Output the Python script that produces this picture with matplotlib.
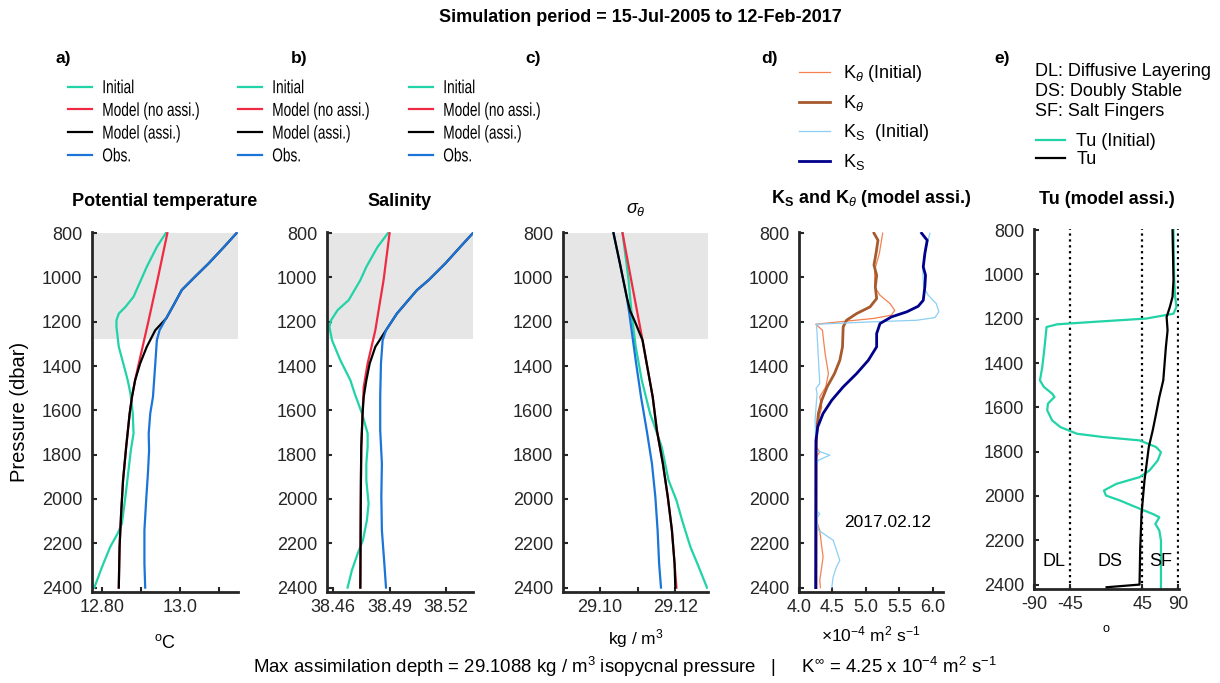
import matplotlib.pyplot as plt
from matplotlib.patheffects import AbstractPathEffect
from matplotlib.transforms import Affine2D

plt.rcParams['font.family'] = ['Liberation Sans', 'DejaVu Sans']
plt.rcParams['mathtext.fontset'] = 'custom'
plt.rcParams['mathtext.rm'] = 'Liberation Sans'
plt.rcParams['mathtext.it'] = 'Liberation Sans:italic'
plt.rcParams['mathtext.bf'] = 'Liberation Sans:bold'

DARK = '#262626'

C_INIT = '#21d3a7'
C_NOASSI = '#ef2b43'
C_ASSI = 'black'
C_OBS = '#1b74d8'


class Narrow(AbstractPathEffect):
    # squeeze left-aligned text horizontally (the original uses a condensed face)
    def __init__(self, sx=0.75):
        super().__init__()
        self.sx = sx

    def draw_path(self, renderer, gc, tpath, affine, rgbFace=None):
        renderer.draw_path(gc, tpath, Affine2D().scale(self.sx, 1) + affine, rgbFace)


# ---- a) potential temperature
p_t_obs = [800, 862, 937, 997, 1057, 1125, 1193, 1238, 1283, 1388, 1539, 1614, 1704, 1780, 1885, 1990, 2141, 2291, 2400]
t_obs = [13.146, 13.114, 13.074, 13.039, 13.005, 12.984, 12.962, 12.948, 12.941, 12.937, 12.931, 12.924, 12.920,
         12.921, 12.918, 12.914, 12.909, 12.909, 12.911]
p_t_assi = [800, 862, 937, 997, 1057, 1125, 1185, 1238, 1313, 1388, 1464, 1539, 1614, 1765, 1915, 2066, 2216, 2400]
t_assi = [13.146, 13.114, 13.074, 13.039, 13.005, 12.984, 12.965, 12.937, 12.915, 12.898, 12.885, 12.877, 12.871,
          12.862, 12.854, 12.849, 12.845, 12.843]
p_t_noassi = [800, 1000, 1200, 1400, 1464, 1539, 1614, 1765, 1915, 2066, 2216, 2400]
t_noassi = [12.968, 12.944, 12.919, 12.893, 12.885, 12.877, 12.871, 12.862, 12.854, 12.849, 12.845, 12.843]
p_t_init = [800, 862, 952, 1087, 1133, 1163, 1193, 1223, 1313, 1404, 1464, 1524, 1614, 1704, 1780, 1871, 1990,
            2111, 2156, 2216, 2306, 2400]
t_init = [12.964, 12.941, 12.915, 12.881, 12.860, 12.843, 12.837, 12.837, 12.843, 12.857, 12.866, 12.873, 12.879,
          12.881, 12.874, 12.868, 12.860, 12.851, 12.840, 12.821, 12.800, 12.780]

# ---- b) salinity
p_s_obs = [800, 862, 937, 1012, 1057, 1163, 1238, 1283, 1388, 1539, 1689, 1840, 1990, 2141, 2291, 2400]
s_obs = [38.5344, 38.5277, 38.5197, 38.5108, 38.5046, 38.4939, 38.4881, 38.4863, 38.4854, 38.4850, 38.4850,
         38.4859, 38.4856, 38.4859, 38.4872, 38.4881]
p_s_assi = [800, 862, 937, 1012, 1057, 1163, 1238, 1313, 1388, 1464, 1539, 1614, 1765, 1915, 2066, 2400]
s_assi = [38.5344, 38.5277, 38.5197, 38.5108, 38.5046, 38.4939, 38.4881, 38.4824, 38.4794, 38.4776, 38.4762,
          38.4756, 38.4749, 38.4747, 38.4746, 38.4744]
p_s_noassi = [800, 1012, 1238, 1388, 1494, 1765, 2066, 2400]
s_noassi = [38.4900, 38.4868, 38.4824, 38.4783, 38.4762, 38.4749, 38.4746, 38.4744]
p_s_init = [800, 862, 952, 1012, 1102, 1147, 1193, 1223, 1283, 1373, 1464, 1524, 1614, 1704, 1765, 1840, 1915,
            2021, 2096, 2186, 2246, 2322, 2400]
s_init = [38.4891, 38.4836, 38.4776, 38.4744, 38.4682, 38.4623, 38.4588, 38.4579, 38.4593, 38.4637, 38.4691,
          38.4714, 38.4753, 38.4783, 38.4783, 38.4776, 38.4776, 38.4788, 38.4779, 38.4758, 38.4730, 38.4699, 38.4676]

# ---- c) sigma theta
p_d_obs = [800, 937, 1087, 1163, 1238, 1388, 1539, 1689, 1840, 1990, 2141, 2291, 2400]
d_obs = [29.1036, 29.1053, 29.1071, 29.1078, 29.1084, 29.1096, 29.1109, 29.1124, 29.1138, 29.1147, 29.1153,
         29.1157, 29.1162]
p_d_assi = [800, 937, 1087, 1150, 1200, 1283, 1388, 1539, 1689, 1840, 1990, 2141, 2291, 2400]
d_assi = [29.1036, 29.1053, 29.1071, 29.1080, 29.1093, 29.1113, 29.1124, 29.1140, 29.1151, 29.1167, 29.1180,
          29.1191, 29.1198, 29.1200]
p_d_noassi = [800, 1012, 1283, 1388, 1539, 1689, 1840, 1990, 2141, 2291, 2400]
d_noassi = [29.1060, 29.1083, 29.1113, 29.1124, 29.1140, 29.1151, 29.1167, 29.1180, 29.1191, 29.1198, 29.1203]
p_d_init = [800, 1012, 1163, 1313, 1464, 1614, 1765, 1915, 2006, 2096, 2216, 2306, 2400]
d_init = [29.1060, 29.1076, 29.1084, 29.1095, 29.1111, 29.1133, 29.1164, 29.1182, 29.1203, 29.1218, 29.1240,
          29.1262, 29.1284]

# ---- d) diffusivities (x 1e-4 m2/s)
p_ks = [800, 832, 892, 952, 990, 1042, 1103, 1130, 1155, 1178, 1208, 1253, 1313, 1374, 1434, 1494, 1554, 1614,
        1675, 1735, 2400]
ks = [5.831, 5.915, 5.88, 5.856, 5.89, 5.88, 5.856, 5.78, 5.61, 5.38, 5.21, 5.16, 5.16, 5.035, 4.86, 4.66, 4.49,
      4.36, 4.28, 4.254, 4.25]
p_kt = [800, 832, 892, 944, 990, 1042, 1095, 1133, 1163, 1193, 1223, 1313, 1374, 1434, 1494, 1554, 1614, 1705,
        1795, 2400]
kt = [5.12, 5.18, 5.15, 5.12, 5.16, 5.14, 5.16, 5.06, 4.86, 4.71, 4.66, 4.65, 4.61, 4.53, 4.42, 4.34, 4.29, 4.26,
      4.255, 4.255]
p_kt_init = [800, 892, 967, 1042, 1080, 1118, 1148, 1170, 1185, 1200, 1211, 1238, 1343, 1434, 1494, 1539, 1584,
             1644, 1765, 1787, 1810, 1870, 2096, 2141, 2216, 2261, 2306, 2367, 2400]
kt_init = [5.25, 5.20, 5.13, 5.13, 5.21, 5.36, 5.43, 5.38, 5.11, 4.61, 4.25, 4.35, 4.39, 4.44, 4.40, 4.31, 4.34,
           4.29, 4.26, 4.31, 4.26, 4.26, 4.26, 4.31, 4.34, 4.36, 4.34, 4.31, 4.32]
p_ks_init = [800, 892, 967, 1042, 1080, 1118, 1155, 1181, 1193, 1200, 1211, 1253, 1419, 1479, 1501, 1524, 1644,
             1780, 1802, 1825, 1848, 2051, 2066, 2089, 2141, 2186, 2231, 2277, 2307, 2352, 2400]
ks_init = [5.955, 5.88, 5.85, 5.86, 5.93, 6.05, 6.09, 6.03, 5.76, 5.11, 4.26, 4.27, 4.30, 4.31, 4.255, 4.27, 4.24,
           4.255, 4.46, 4.29, 4.255, 4.255, 4.31, 4.26, 4.29, 4.51, 4.56, 4.61, 4.56, 4.51, 4.49]

# ---- e) Turner angle
p_tu = [800, 1026, 1101, 1146, 1192, 1252, 1327, 1478, 1553, 1629, 1704, 1779, 1930, 2081, 2231, 2400, 2412]
tu = [82.9, 84.1, 82.9, 79.6, 75.5, 76.7, 74.6, 71.3, 66.4, 62.3, 58.1, 53.2, 47.8, 44.1, 42.5, 41.6, 0.4]
p_tu_init = [800, 1026, 1101, 1146, 1177, 1199, 1214, 1225, 1237, 1327, 1418, 1478, 1508, 1538, 1553, 1583, 1613,
             1659, 1689, 1719, 1734, 1749, 1779, 1802, 1840, 1885, 1915, 1945, 1975, 1998, 2020, 2051, 2081, 2096,
             2126, 2156, 2201, 2307, 2420]
tu_init = [84.1, 85.0, 86.2, 87.8, 84.1, 49.9, -16.1, -61.5, -74.7, -77.2, -80.1, -83.0, -78.0, -67.7, -64.8,
           -73.0, -73.9, -67.7, -57.4, -36.7, -3.7, 41.6, 62.3, 68.4, 64.3, 54.0, 41.6, 12.8, -2.9, -0.4, 16.9, 37.5,
           58.1, 66.4, 61.4, 66.4, 68.4, 68.4, 68.4]

shade_top, shade_bottom = 800, 1278
yticks = [800, 1000, 1200, 1400, 1600, 1800, 2000, 2200, 2400]

fig = plt.figure(figsize=(12.2, 6.83), dpi=100)

H = 0.527
axa = fig.add_axes([0.0754, 0.1332, 0.1197, H])
axb = fig.add_axes([0.2680, 0.1332, 0.1197, H])
axc = fig.add_axes([0.4615, 0.1332, 0.1189, H])
axd = fig.add_axes([0.6549, 0.1332, 0.1180, H])
axe = fig.add_axes([0.8475, 0.1376, 0.1189, H])

for ax in [axa, axb, axc, axd, axe]:
    ax.set_ylim(2420, 795)
    ax.set_yticks(yticks)
    for s in ['top', 'right']:
        ax.spines[s].set_visible(False)
    for s in ['left', 'bottom']:
        ax.spines[s].set_linewidth(2.0)
        ax.spines[s].set_color(DARK)
    ax.tick_params(direction='in', length=3.5, width=1.5, colors=DARK, labelsize=13)
    ax.tick_params(axis='y', pad=7)
    ax.tick_params(axis='x', pad=5)

for ax in [axa, axb, axc]:
    ax.axhspan(shade_top, shade_bottom, color='#e6e6e6', lw=0, zorder=0)

# a
axa.plot(t_init, p_t_init, color=C_INIT, lw=1.6, label='Initial')
axa.plot(t_noassi, p_t_noassi, color=C_NOASSI, lw=1.6, label='Model (no assi.)')
axa.plot(t_obs, p_t_obs, color=C_OBS, lw=1.6, label='Obs.', zorder=3)
axa.plot(t_assi, p_t_assi, color=C_ASSI, lw=1.6, label='Model (assi.)', zorder=2)
axa.set_xlim(12.774, 13.150)
axa.set_xticks([12.8, 12.9, 13.0, 13.1])
axa.set_xticklabels(['12.80', '', '13.0', ''])
axa.set_xlabel(r'$^{\rm o}$C', fontsize=13, labelpad=13)
axa.set_ylabel('Pressure (dbar)', fontsize=14.5, labelpad=9)
axa.set_title('Potential temperature', fontsize=13, fontweight='bold', pad=19)

# b
axb.plot(s_init, p_s_init, color=C_INIT, lw=1.6, label='Initial')
axb.plot(s_noassi, p_s_noassi, color=C_NOASSI, lw=1.6, label='Model (no assi.)')
axb.plot(s_obs, p_s_obs, color=C_OBS, lw=1.6, label='Obs.', zorder=3)
axb.plot(s_assi, p_s_assi, color=C_ASSI, lw=1.6, label='Model (assi.)', zorder=2)
axb.set_xlim(38.4566, 38.5345)
axb.set_xticks([38.46, 38.49, 38.52])
axb.set_xticklabels(['38.46', '38.49', '38.52'])
axb.set_title('Salinity', fontsize=13, fontweight='bold', pad=19)

# c
axc.plot(d_init, p_d_init, color=C_INIT, lw=1.6, label='Initial')
axc.plot(d_noassi, p_d_noassi, color=C_NOASSI, lw=1.6, label='Model (no assi.)')
axc.plot(d_obs, p_d_obs, color=C_OBS, lw=1.6, label='Obs.', zorder=3)
axc.plot(d_assi, p_d_assi, color=C_ASSI, lw=1.6, label='Model (assi.)', zorder=4)
axc.set_xlim(29.0902, 29.1287)
axc.set_xticks([29.10, 29.11, 29.12])
axc.set_xticklabels(['29.10', '', '29.12'])
axc.set_xlabel('kg / m$^3$', fontsize=12.5, labelpad=8)
axc.set_title(r'$\sigma_{\theta}$', fontsize=13, pad=14)

for ax, x0 in [(axa, 0.0557), (axb, 0.1950), (axc, 0.3352)]:
    h, l = ax.get_legend_handles_labels()
    order = [0, 1, 3, 2]
    leg = fig.legend([h[i] for i in order], [l[i] for i in order], loc='upper left',
                     bbox_to_anchor=(x0, 1 - 80 / 683), frameon=False, borderpad=0, borderaxespad=0,
                     handlelength=1.28, handletextpad=0.55, labelspacing=0.3, prop={'size': 13.5})
    for t in leg.get_texts():
        t.set_path_effects([Narrow(0.73)])

# d
axd.plot(kt_init, p_kt_init, color='#f4814f', lw=0.9, label=r'K$_\theta$ (Initial)')
axd.plot(kt, p_kt, color='#a65a2e', lw=2.0, label=r'K$_\theta$')
axd.plot(ks_init, p_ks_init, color='#8ccff5', lw=0.9, label=r'K$_\mathrm{S}$  (Initial)')
axd.plot(ks, p_ks, color='#00008b', lw=2.0, label=r'K$_\mathrm{S}$')
axd.set_xlim(4.0, 6.15)
axd.set_xticks([4.0, 4.5, 5.0, 5.5, 6.0])
axd.set_xticklabels(['4.0', '4.5', '5.0', '5.5', '6.0'])
axd.set_xlabel(r'$\times$10$^{-4}$ m$^2$ s$^{-1}$', fontsize=12.5, labelpad=6)
axd.set_title(r'K$_{\mathbf{S}}$ and K$_{\theta}$ (model assi.)', fontsize=13, fontweight='bold', pad=21)
axd.text(5.33, 2104, '2017.02.12', fontsize=12.5, ha='center', va='center')
fig.legend(*axd.get_legend_handles_labels(), loc='upper left',
           bbox_to_anchor=(0.6549, 1 - 63 / 683), frameon=False, borderpad=0, borderaxespad=0,
           handlelength=1.7, handletextpad=0.75, labelspacing=0.5, prop={'size': 13})

# e
for v in [-45, 45, 90]:
    axe.axvline(v, color='black', ls=':', lw=1.6, zorder=1)
axe.plot(tu_init, p_tu_init, color=C_INIT, lw=1.6, label='Tu (Initial)', zorder=2)
axe.plot(tu, p_tu, color=C_ASSI, lw=1.6, label='Tu', zorder=3)
axe.set_xlim(-90.5, 91)
axe.set_xticks([-90, -45, 45, 90])
axe.set_xticklabels(['-90', '-45', '45', '90'])
axe.set_xlabel(r'$^{\rm o}$', fontsize=13, labelpad=8)
axe.set_title('Tu (model assi.)', fontsize=13, fontweight='bold', pad=18)
for lab, x in [('DL', -65.6), ('DS', 4.5), ('SF', 68.4)]:
    axe.text(x, 2294, lab, fontsize=13, ha='center', va='center')
fig.legend(*axe.get_legend_handles_labels(), loc='upper left',
           bbox_to_anchor=(0.8490, 1 - 133 / 683), frameon=False, borderpad=0, borderaxespad=0,
           handlelength=1.6, handletextpad=0.65, labelspacing=0.05, prop={'size': 13})
for i, t in enumerate(['DL: Diffusive Layering', 'DS: Doubly Stable', 'SF: Salt Fingers']):
    fig.text(1035 / 1220, 1 - (72 + 19.5 * i) / 683, t, fontsize=13, va='center')

# panel letters
for x, lab in [(55, 'a)'), (291, 'b)'), (525, 'c)'), (761, 'd)'), (994, 'e)')]:
    fig.text(x / 1220, 1 - 58 / 683, lab, fontsize=12.5, fontweight='bold', va='center')

fig.text(640 / 1220, 1 - 18 / 683, 'Simulation period = 15-Jul-2005 to 12-Feb-2017', fontsize=13,
         fontweight='bold', ha='center', va='center')
fig.text(625 / 1220, 1 - 667 / 683,
         r'Max assimilation depth = 29.1088 kg / m$^3$ isopycnal pressure   |     '
         r'K$^{\infty}$ = 4.25 x 10$^{-4}$ m$^2$ s$^{-1}$',
         fontsize=13.4, ha='center', va='center')

fig.savefig('out.png', dpi=100)
